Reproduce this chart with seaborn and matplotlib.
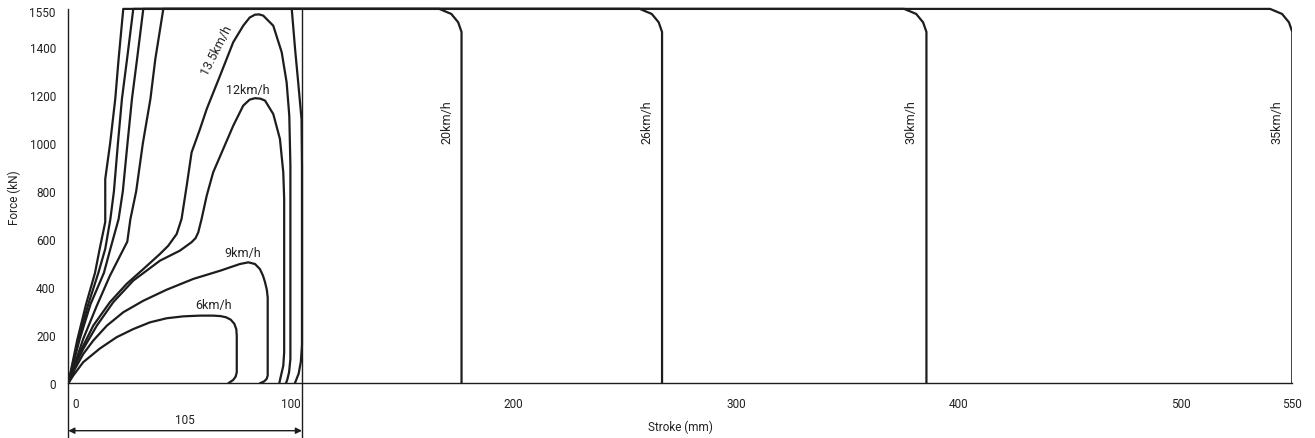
import matplotlib
matplotlib.use("Agg")
import matplotlib.pyplot as plt
import pandas as pd
import seaborn as sns
from matplotlib.transforms import ScaledTranslation

# ---- force / stroke characteristics (stroke in mm, force in kN) ----
s_6 = [0, 2.2, 6.7, 14.2, 21.7, 29.2, 36.7, 44.2, 51.7, 59.2, 65.1, 68.4, 70.9, 73.0, 74.6, 75.5, 75.7, 75.7, 75.2, 74.1, 71.9]
f_6 = [0, 32, 88, 145, 192, 226, 254, 271, 279, 282, 282, 280, 275, 265, 248, 225, 198, 46, 28, 14, 0]

s_9 = [0, 3.0, 6.7, 11.2, 17.3, 24.7, 33.7, 44.2, 56.2, 68.2, 77.1, 80.9, 83.9, 86.1, 87.5, 88.4, 89.2, 89.6, 89.6, 89.1, 88.0, 86.1]
f_9 = [0, 60, 122, 178, 240, 296, 344, 390, 435, 469, 497, 504, 497, 476, 448, 421, 390, 358, 32, 18, 8, 0]

s_12 = [0, 3.0, 6.7, 12.8, 20.2, 29.2, 41.2, 50.2, 55.4, 57.2, 58.4, 59.9, 62.2, 65.1, 69.6, 74.1, 78.6,
        81.5, 83.9, 86.3, 88.4, 92.1, 95.1, 96.6, 97.0, 97.0, 96.6, 95.4, 94.8]
f_12 = [0, 73, 143, 240, 338, 428, 511, 553, 588, 605, 629, 685, 782, 879, 976, 1073, 1157,
        1182, 1188, 1186, 1178, 1122, 1018, 879, 768, 129, 73, 25, 0]

s_13_5 = [0, 2.6, 6.0, 11.2, 18.7, 26.2, 33.7, 41.2, 44.9, 48.7, 50.9, 53.2, 55.4, 59.2, 62.2, 68.2,
          74.1, 78.6, 81.5, 83.9, 85.8, 87.6, 92.1, 95.9, 98.1, 99.3, 99.8, 99.8, 99.2, 98.4, 97.8]
f_13_5 = [0, 73, 143, 240, 338, 414, 476, 539, 573, 622, 685, 823, 962, 1060, 1143, 1282,
          1421, 1490, 1524, 1536, 1537, 1532, 1490, 1379, 1254, 1115, 907, 101, 46, 15, 0]

s_20 = [0, 6.7, 12.8, 18.7, 23.3, 26.5, 27.9, 30.5, 33.5, 36.9, 39.1, 42.7,
        166.7, 172.1, 175.2, 176.7, 176.7]
f_20 = [0, 185, 323, 448, 532, 590, 684, 800, 1000, 1185, 1351, 1560,
        1560, 1539, 1504, 1464, 0]

s_26 = [0, 5.0, 10.0, 16.0, 18.9, 22.6, 24.5, 26.6, 28.6, 30.9, 33.7,
        256.8, 262.2, 265.3, 266.8, 266.8]
f_26 = [0, 180, 330, 460, 560, 684, 800, 1000, 1185, 1351, 1560,
        1560, 1539, 1504, 1464, 0]

s_30 = [0, 4.5, 9.0, 13.5, 16.6, 18.9, 20.5, 22.3, 24.1, 26.4, 29.2,
        375.6, 381.0, 384.1, 385.6, 385.6]
f_30 = [0, 180, 330, 460, 560, 684, 800, 1000, 1185, 1351, 1560,
        1560, 1539, 1504, 1464, 0]

s_35 = [0, 4.0, 8.0, 12.0, 14.1, 16.6, 16.6, 18.8, 21.1, 22.6, 24.7,
        540.0, 545.4, 548.5, 550.0, 550.0]
f_35 = [0, 180, 330, 460, 560, 672, 851, 1000, 1185, 1351, 1560,
        1560, 1539, 1504, 1464, 0]

# end-of-stroke return of the buffer at its full travel
s_end = [100.4, 101.9, 103.3, 104.8, 105.0, 105.0, 104.5, 103.5, 101.8]
f_end = [1560, 1393, 1254, 1101, 900, 160, 90, 40, 0]

buffer_stroke = 105
x_ticks = [0, 100, 200, 300, 400, 500, 550]
y_ticks = [0, 200, 400, 600, 800, 1000, 1200, 1400, 1550]

curves = {
    "6km/h": (s_6, f_6), "9km/h": (s_9, f_9), "12km/h": (s_12, f_12),
    "13.5km/h": (s_13_5, f_13_5), "20km/h": (s_20, f_20), "26km/h": (s_26, f_26),
    "30km/h": (s_30, f_30), "35km/h": (s_35, f_35), "end": (s_end, f_end),
}
df = pd.concat(
    [pd.DataFrame({"stroke": s, "force": f, "curve": name}) for name, (s, f) in curves.items()],
    ignore_index=True,
)

sns.set_theme(style="white")
plt.rcParams["font.family"] = ["Roboto", "DejaVu Sans"]

ink = "#1d1d1d"
txt = "#222222"
W, H = 1315, 439
fig = plt.figure(figsize=(W / 100, H / 100), dpi=100)
ax = fig.add_axes([68.3 / W, (H - 384.3) / H, (1292.3 - 68.3) / W, 384 / H])

sns.lineplot(data=df, x="stroke", y="force", units="curve", estimator=None, sort=False,
             color=ink, lw=1.6, ax=ax, legend=False)

ax.set_xlim(0, 550)
ax.set_ylim(0, 1600)
ax.set_xticks(x_ticks)
ax.set_yticks(y_ticks)
ax.set_xticklabels([str(v) for v in x_ticks])
ax.set_yticklabels([str(v) for v in y_ticks])

for side in ("top", "right"):
    ax.spines[side].set_visible(False)
for side in ("left", "bottom"):
    ax.spines[side].set_color(ink)
    ax.spines[side].set_linewidth(1.0)
ax.spines["left"].set_bounds(-228, 1560)

ax.tick_params(axis="both", colors=ink, labelcolor=txt, labelsize=8.5, width=1.0, length=6)
ax.tick_params(axis="x", pad=4)
ax.tick_params(axis="y", pad=3)
ax.xaxis.get_major_ticks()[0].tick1line.set_visible(False)
zero_lbl = ax.get_xticklabels()[0]
zero_lbl.set_transform(zero_lbl.get_transform() + ScaledTranslation(7.7 / 100, 0, fig.dpi_scale_trans))

ax.set_xlabel("Stroke (mm)", fontsize=8.5, color=txt, va="top")
ax.xaxis.set_label_coords(0.5, -0.094)
ax.set_ylabel("Force (kN)", fontsize=8.5, color=txt)
ax.yaxis.set_label_coords(-0.039, 0.486)

# curve labels
lbl = dict(fontsize=9, color=txt, ha="center", va="center")
ax.text(65.1, 330, "6km/h", **lbl)
ax.text(78.3, 546, "9km/h", **lbl)
ax.text(80.7, 1226, "12km/h", **lbl)
ax.text(66.3, 1393, "13.5km/h", rotation=63, rotation_mode="anchor", **lbl)
for x, name in [(170.0, "20km/h"), (259.8, "26km/h"), (378.6, "30km/h"), (543.0, "35km/h")]:
    ax.text(x, 1094, name, rotation=90, **lbl)

# buffer stroke dimension
ax.plot([buffer_stroke, buffer_stroke], [-228, 1560], color=ink, lw=1.0, clip_on=False)
ax.annotate("", xy=(0, -197.5), xytext=(buffer_stroke, -197.5),
            arrowprops=dict(arrowstyle="<|-|>", color=ink, lw=1.0, shrinkA=0, shrinkB=0,
                            mutation_scale=9),
            annotation_clip=False)
ax.text(buffer_stroke / 2, -150, str(buffer_stroke), fontsize=8.5, color=txt,
        ha="center", va="center", clip_on=False)

fig.savefig("out.png", dpi=100, facecolor="white")
